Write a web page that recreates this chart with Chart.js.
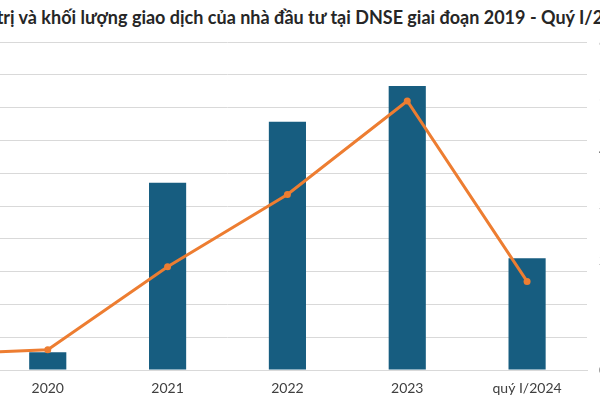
<!DOCTYPE html>
<html>
<head>
<meta charset="utf-8">
<script src="https://cdn.jsdelivr.net/npm/chart.js@4"></script>
<style>
  html, body { margin: 0; padding: 0; width: 600px; height: 399px; overflow: hidden; background: #fff; }
  #title {
    position: absolute; left: -200px; width: 1000px; top: 6px;
    text-align: center; white-space: nowrap;
    font-family: Lato, sans-serif; font-weight: bold; font-size: 18px; color: #262626;
  }
  #wrap { position: absolute; left: -136px; top: 0; width: 763px; height: 399px; }
</style>
</head>
<body>
<div id="title">Giá trị và khối lượng giao dịch của nhà đầu tư tại DNSE giai đoạn 2019 - Quý I/2024</div>
<div id="wrap"><canvas id="chart"></canvas></div>
<script>
// ===== DATA =====
var categories = ['2019', '2020', '2021', '2022', '2023', 'quý I/2024'];
var giaTri = [0.4, 0.54, 5.71, 7.57, 8.66, 3.41];      // cột, trục trái
var khoiLuong = [0.28, 0.37, 1.89, 3.21, 4.92, 1.62];  // đường, trục phải
var leftTicks = [0, 1, 2, 3, 4, 5, 6, 7, 8, 9, 10];
var rightTicks = [0, 1, 2, 3, 4, 5, 6];

var barColor = '#175d80';
var lineColor = '#ed7d31';
var gridColor = '#d9d9d9';

new Chart(document.getElementById('chart'), {
    type: 'bar',
    data: {
        labels: categories,
        datasets: [{
            type: 'line',
            label: 'Khối lượng giao dịch',
            data: khoiLuong,
            yAxisID: 'y1',
            borderColor: lineColor,
            backgroundColor: lineColor,
            borderWidth: 3,
            pointRadius: 3.5,
            pointBorderWidth: 0,
            tension: 0,
            order: 0
        }, {
            label: 'Giá trị giao dịch',
            data: giaTri,
            yAxisID: 'y',
            backgroundColor: barColor,
            categoryPercentage: 1,
            barPercentage: 0.31,
            order: 1
        }]
    },
    options: {
        responsive: true,
        maintainAspectRatio: false,
        animation: false,
        layout: { padding: { top: 42, left: 0, right: 0, bottom: 0 } },
        plugins: { legend: { display: false }, tooltip: { enabled: false } },
        scales: {
            x: {
                grid: { display: false, drawTicks: false },
                border: { display: true, color: gridColor },
                ticks: { color: '#404040', padding: 10, font: { family: 'Lato', size: 14 } },
                afterFit: function (axis) { axis.height = 29; }
            },
            y: {
                position: 'left',
                min: leftTicks[0],
                max: leftTicks[leftTicks.length - 1],
                grid: { color: gridColor, drawTicks: false },
                border: { display: false },
                ticks: { display: false, stepSize: 1 },
                afterFit: function (axis) { axis.width = 0; }
            },
            y1: {
                position: 'right',
                min: rightTicks[0],
                max: rightTicks[rightTicks.length - 1],
                grid: { drawOnChartArea: false, drawTicks: false },
                border: { display: false },
                ticks: { color: '#595959', padding: 12, stepSize: 1, font: { family: 'Lato', size: 14 } },
                afterFit: function (axis) { axis.width = 40; }
            }
        }
    }
});
</script>
</body>
</html>
